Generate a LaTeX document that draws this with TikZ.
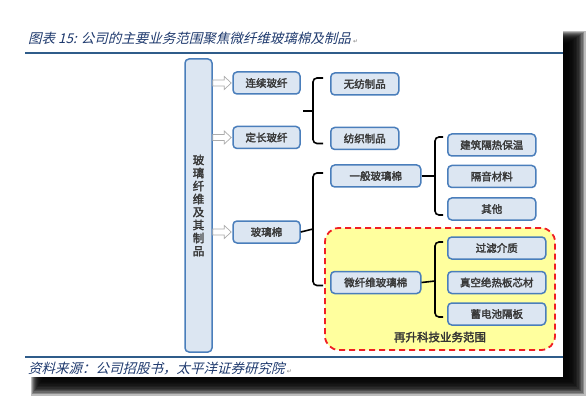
\documentclass[tikz,border=0pt]{standalone}
\usepackage{fontspec}
\usepackage{xcolor}
\usetikzlibrary{arrows.meta,positioning,calc}
\newfontfamily\cjk{Noto Sans CJK SC}
\newfontfamily\cjkb[FakeBold=2.5]{Noto Sans CJK SC}
\newfontfamily\cjkit[FakeSlant=0.25]{Noto Sans CJK SC}
\newfontfamily\dejavu{DejaVu Sans}
\definecolor{boxfill}{HTML}{DCE6F2}
\definecolor{boxline}{HTML}{4A7EBB}
\definecolor{navy}{HTML}{1F3A6E}
\definecolor{rulecol}{HTML}{2F5C8A}
\definecolor{zonefill}{HTML}{FFFF9E}
\definecolor{zoneline}{HTML}{F01E23}

\begin{document}
\begin{tikzpicture}[x=1pt,y=-1pt,
  box/.style={draw=boxline,fill=boxfill,line width=1.5pt,rounded corners=4pt,minimum height=22pt,inner sep=0pt,align=center,font=\cjkb\fontsize{10.5}{13}\selectfont,text=black!78},
  brk/.style={line width=1.6pt,rounded corners=4pt},
  fat/.style={draw=gray!65,fill=white,line width=0.7pt,to path={($(\tikztostart)+(0,3)$) -- ($(\tikztotarget)+(-8,3)$) -- ($(\tikztotarget)+(-8,6.5)$) -- ($(\tikztotarget)+(-1,0)$) -- ($(\tikztotarget)+(-8,-6.5)$) -- ($(\tikztotarget)+(-8,-3)$) -- ($(\tikztostart)+(0,-3)$) -- cycle}},
  captext/.style={font=\cjkit\fontsize{13.5}{15}\selectfont,text=navy,anchor=west,inner sep=0pt}
]
\useasboundingbox (0,0) rectangle (588,403);
\foreach \k in {1,...,14}
  \fill[black,opacity=0.26] (30+\k,30+\k) rectangle (587-1.4*\k,397-1.4*\k);
\fill[white] (25,25) rectangle (563,377);
\node[captext] (title) at (28,38) {图表 15: 公司的主要业务范围聚焦微纤维玻璃棉及制品\,{\dejavu\fontsize{6}{6}\selectfont\color{gray}↵}};
\draw[rulecol,line width=2pt] (25,53) -- (563,53);
\draw[rulecol,line width=1.2pt] (25,357) -- (563,357);
\node[captext] (source) at (28,368) {资料来源：公司招股书，太平洋证券研究院\,{\dejavu\fontsize{6}{6}\selectfont\color{gray}↵}};

\node[draw=zoneline,fill=zonefill,line width=1.8pt,dash pattern=on 6pt off 4pt,rounded corners=14pt,minimum width=230pt,minimum height=122pt] (zone) at (440,289) {};
\node[font=\cjkb\fontsize{11.5}{13}\selectfont,text=black!80,above=5pt of zone.south] (zonelbl) {再升科技业务范围};

\node[box,minimum width=27pt,minimum height=293pt,font=\cjkb\fontsize{11.5}{13}\selectfont] (glass) at (198.5,205.5) {玻\\璃\\纤\\维\\及\\其\\制\\品};
\node[box,minimum width=67pt] (lianxu) at (266.5,83) {连续玻纤};
\node[box,minimum width=67pt,below=31pt of lianxu] (dingchang) {定长玻纤};
\node[box,minimum width=67pt,below=71pt of dingchang] (mian) {玻璃棉};

\node[box,minimum width=68pt,anchor=west] (wufang) at (330,84) {无纺制品};
\node[box,minimum width=68pt,below=31pt of wufang] (fangzhi) {纺织制品};
\node[box,minimum width=90pt,anchor=west] (yiban) at (330,176) {一般玻璃棉};
\node[box,minimum width=90pt,below=83pt of yiban] (weixian) {微纤维玻璃棉};

\node[box,minimum width=88pt,anchor=west] (jianzhu) at (447,145) {建筑隔热保温};
\node[box,minimum width=88pt,below=8pt of jianzhu] (geyin) {隔音材料};
\node[box,minimum width=88pt,below=9pt of geyin] (qita) {其他};
\node[box,minimum width=98pt,anchor=west] (guolv) at (447,248) {过滤介质};
\node[box,minimum width=98pt,below=11pt of guolv] (zhenkong) {真空绝热板芯材};
\node[box,minimum width=98pt,below=8pt of zhenkong] (xudian) {蓄电池隔板};

\draw[fat] (glass.east|-lianxu) to (lianxu.west);
\draw[fat] (glass.east|-dingchang) to (dingchang.west);
\draw[fat] (glass.east|-mian) to (mian.west);

\coordinate (b1) at (313,111);
\coordinate (b2) at (313,229);
\coordinate (b3) at (435,176);
\coordinate (b4) at (435,281);
\draw[brk] ([xshift=-7pt,yshift=6pt]wufang.west) -| (b1) |- ([xshift=-7pt,yshift=-5pt]fangzhi.west);
\draw[brk] ([xshift=-10pt]b1) -- (b1);
\draw[brk] ([xshift=-7pt,yshift=3pt]yiban.west) -| (b2) |- ([xshift=-7pt,yshift=-3pt]weixian.west);
\draw[brk] (mian.east) -- (b2);
\draw[brk] ([xshift=-4pt,yshift=8pt]jianzhu.west) -| (b3) |- ([xshift=-4pt,yshift=-6pt]qita.west);
\draw[brk] (yiban.east) -- (b3);
\draw[brk] ([xshift=-4pt,yshift=6pt]guolv.west) -| (b4) |- ([xshift=-4pt,yshift=-3pt]xudian.west);
\draw[brk] (weixian.east) -- (b4);
\end{tikzpicture}
\end{document}
